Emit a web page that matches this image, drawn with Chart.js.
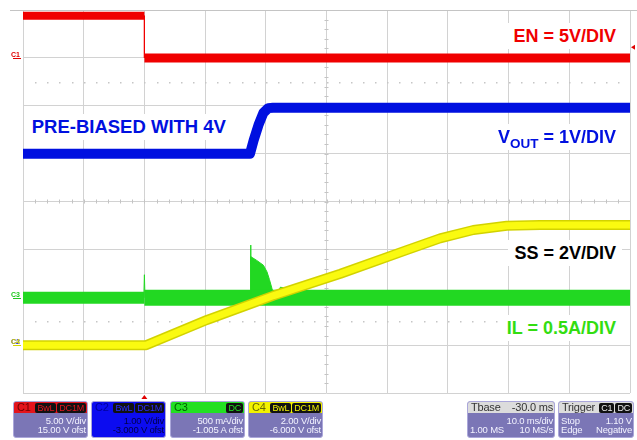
<!DOCTYPE html>
<html>
<head>
<meta charset="utf-8">
<title>Pre-biased start-up</title>
<script src="https://cdn.jsdelivr.net/npm/chart.js@4.4.1/dist/chart.umd.min.js"></script>
<style>
  body { margin: 0; background: #fff; }
  #wrap { position: relative; width: 637px; height: 440px; overflow: hidden; font-family: "Liberation Sans", Arial, sans-serif; }
  #scope { position: absolute; left: 0; top: 0; }
  .lbl { position: absolute; background: #fff; font-weight: bold; font-size: 18px; line-height: 26px; padding: 0 6px; white-space: nowrap; }
  .lbl sub { font-size: 13.5px; line-height: 0; vertical-align: -5px; }
  .box { position: absolute; top: 401px; height: 37px; box-sizing: border-box; border: 1px solid #aba7da; border-radius: 3px;
         background: #7b76b6; overflow: hidden; font-size: 9.5px; color: #f2f2ff; letter-spacing: -0.2px; }
  .hdr { height: 11px; line-height: 11px; padding: 0 1px 0 3px; display: flex; justify-content: space-between; align-items: center; font-size: 11px; }
  .hdr i { font-style: normal; background: #111; border-radius: 2px; font-size: 9px; line-height: 9px; padding: 0 2px; margin-left: 1px; }
  .row { height: 9.5px; line-height: 9.5px; padding: 0 1px 0 2px; display: flex; justify-content: flex-end; white-space: nowrap; }
  .row.first { margin-top: 2.5px; }
  .row.split { justify-content: space-between; }
</style>
</head>
<body>
<div id="wrap">
  <canvas id="scope" width="637" height="440"></canvas>

  <div class="lbl" style="right:15px; top:22.5px; color:#f00000;">EN = 5V/DIV</div>
  <div class="lbl" style="right:15px; top:124px; color:#0010e0;">V<sub>OUT</sub> = 1V/DIV</div>
  <div class="lbl" style="left:25.7px; top:114px; font-size:18.5px; color:#0010e0;">PRE-BIASED WITH 4V</div>
  <div class="lbl" style="right:15px; top:240px; color:#000;">SS = 2V/DIV</div>
  <div class="lbl" style="right:15px; top:315px; color:#33dd11;">IL = 0.5A/DIV</div>

  <div class="box" style="left:13px; width:75px;">
    <div class="hdr" style="background:#e3141c; color:#700000;"><span>C1</span><span><i style="color:#e3141c">BwL</i><i style="color:#e3141c">DC1M</i></span></div>
    <div class="row first">5.00 V/div</div>
    <div class="row">15.00 V ofst</div>
  </div>
  <div class="box" style="left:91px; width:75px; background:#0c0cf0; color:#00004a;">
    <div class="hdr" style="color:#00009a;"><span>C2</span><span><i style="color:#2a2aff">BwL</i><i style="color:#2a2aff">DC1M</i></span></div>
    <div class="row first">1.00 V/div</div>
    <div class="row">-3.000 V ofst</div>
  </div>
  <div class="box" style="left:170px; width:75px;">
    <div class="hdr" style="background:#22e022; color:#006000;"><span>C3</span><span><i style="color:#22e022">DC</i></span></div>
    <div class="row first">500 mA/div</div>
    <div class="row">-1.005 A ofst</div>
  </div>
  <div class="box" style="left:248px; width:75px;">
    <div class="hdr" style="background:#f2f200; color:#6a6a00;"><span>C4</span><span><i style="color:#f2f200">BwL</i><i style="color:#f2f200">DC1M</i></span></div>
    <div class="row first">2.00 V/div</div>
    <div class="row">-6.000 V ofst</div>
  </div>
  <div class="box" style="left:467px; width:88px;">
    <div class="hdr" style="background:#dcdcdc; color:#333;"><span>Tbase</span><span>-30.0 ms</span></div>
    <div class="row first">10.0 ms/div</div>
    <div class="row split"><span>1.00 MS</span><span>10 MS/s</span></div>
  </div>
  <div class="box" style="left:558px; width:76px;">
    <div class="hdr" style="background:#dcdcdc; color:#333;"><span>Trigger</span><span><i style="color:#eee">C1</i><i style="color:#eee">DC</i></span></div>
    <div class="row first split"><span>Stop</span><span>1.10 V</span></div>
    <div class="row split"><span>Edge</span><span>Negative</span></div>
  </div>
</div>

<script>
// time in ms (10 ms/div, trigger at t = 0 on the 2nd division)
var timeMin = -20, timeMax = 80;

// channel settings: volts (amps) per division and offset
var enVdiv = 5,   enOfst = 15;
var outVdiv = 1,  outOfst = -3;
var ilAdiv = 0.5, ilOfst = -1.005;
var ssVdiv = 2,   ssOfst = -6;

// C1: EN (V)
var enT = [-20, 0, 0, 80];
var enV = [4.4, 4.4, 0, 0];

// C2: VOUT (V)
var voutT = [-20, 17.4, 18.0, 18.8, 19.6, 20.4, 21.2, 80];
var voutV = [4.0, 4.0, 4.28, 4.6, 4.85, 4.95, 4.96, 4.96];

// C3: IL (A)
var ilT = [-20, 0, 80];
var ilA = [0, 0, 0];
var ilSpikeT = [-0.1, 0, 0.1, 8, 17.45, 17.5, 17.55];
var ilSpikeA = [0, 0.24, 0, null, 0, 0.55, 0.35];
var ilRingT = [17.45, 17.5, 18.5, 19.6, 20.2, 20.6, 21.0, 21.3, 22.0, 22.4, 23.2, 23.6];
var ilRingA = [0, 0.43, 0.39, 0.34, 0.27, 0.19, 0.10, 0.03, 0.05, 0.11, 0.10, 0.04];

// C4: SS (V)
var ssT = [-20, 0.3, 10.3, 21.3, 32.3, 43.2, 48.7, 54.2, 59.7, 65.2, 80];
var ssV = [0, 0, 1.05, 2.07, 2.98, 3.97, 4.46, 4.81, 4.99, 5.02, 5.02];

var trigLevel = 1.10;

var red = "#f00000", blue = "#0010e0", green = "#22d822", yellow = "#fafa10";

function pts(t, v) {
    return t.map(function(x, i) { return { x: x, y: v[i] }; });
}

function chAxis(vdiv, ofst, show) {
    return {
        display: show,
        min: -4 * vdiv - ofst,
        max: 4 * vdiv - ofst,
        ticks: { display: false, stepSize: vdiv },
        grid: { color: "#d2d2d2", drawTicks: false },
        border: { display: false }
    };
}

// scope decorations: centre-line minor ticks, dotted rows, trigger and ground markers
var scopeDeco = {
    id: "scopeDeco",
    beforeDatasetsDraw: function(chart) {
        var ctx = chart.ctx, a = chart.chartArea;
        var divW = (a.right - a.left) / 10, divH = (a.bottom - a.top) / 8;
        var cx = chart.scales.x.getPixelForValue(30), cy = (a.top + a.bottom) / 2;
        ctx.save();
        ctx.strokeStyle = "#c4c4c4";
        ctx.lineWidth = 1;
        ctx.beginPath();
        for (var i = 1; i < 50; i++) {
            var x = Math.round(a.left + i * divW / 5) + 0.5;
            ctx.moveTo(x, cy - 2); ctx.lineTo(x, cy + 2);
        }
        for (var j = 1; j < 40; j++) {
            var y = Math.round(a.top + j * divH / 5) + 0.5;
            ctx.moveTo(cx - 2, y); ctx.lineTo(cx + 2, y);
        }
        ctx.moveTo(10, a.top + 0.5); ctx.lineTo(637, a.top + 0.5);
        ctx.stroke();
        ctx.fillStyle = "#c6c6c6";
        [1.5, 6.5].forEach(function(d) {
            var yy = Math.round(a.bottom - d * divH);
            for (var k = 1; k < 50; k++) {
                ctx.fillRect(Math.round(a.left + k * divW / 5), yy, 1.5, 1.5);
            }
        });
        ctx.restore();
    },
    afterDraw: function(chart) {
        var ctx = chart.ctx, a = chart.chartArea, s = chart.scales;
        ctx.save();
        // trigger time and level
        ctx.fillStyle = "#e00000";
        var x0 = s.x.getPixelForValue(0);
        ctx.beginPath();
        ctx.moveTo(x0, a.bottom + 2); ctx.lineTo(x0 - 3, a.bottom + 6); ctx.lineTo(x0 + 3, a.bottom + 6);
        ctx.fill();
        var y0 = s.yEN.getPixelForValue(trigLevel);
        ctx.beginPath();
        ctx.moveTo(a.right + 1, y0); ctx.lineTo(a.right + 5, y0 - 2.5); ctx.lineTo(a.right + 5, y0 + 2.5);
        ctx.fill();
        // channel ground markers
        var gnd = [["C1", "yEN", "#e00000"], ["C3", "yIL", "#20c820"], ["C2", "yOUT", "#1010e0"], ["C4", "ySS", "#d4d400"]];
        ctx.font = "bold 7px 'Liberation Sans', Arial";
        ctx.textAlign = "right";
        ctx.lineWidth = 1;
        gnd.forEach(function(g) {
            var y = Math.round(s[g[1]].getPixelForValue(0)) + 0.5;
            ctx.fillStyle = g[2];
            ctx.strokeStyle = g[2];
            ctx.fillText(g[0], 20, y - 2);
            ctx.beginPath(); ctx.moveTo(13, y); ctx.lineTo(21, y); ctx.stroke();
        });
        ctx.restore();
    }
};

var chart = new Chart(document.getElementById("scope").getContext("2d"), {
    type: "line",
    data: {
        datasets: [{
            label: "SS",
            data: pts(ssT, ssV),
            yAxisID: "ySS",
            borderColor: yellow,
            borderWidth: 7,
            borderJoinStyle: "round",
            order: 0
        }, {
            label: "SS edge",
            data: pts(ssT, ssV),
            yAxisID: "ySS",
            borderColor: "#d2d200",
            borderWidth: 10,
            borderJoinStyle: "round",
            order: 1
        }, {
            label: "EN",
            data: pts(enT, enV),
            yAxisID: "yEN",
            borderColor: red,
            borderWidth: 9,
            segment: {
                borderWidth: function(c) {
                    if (c.p0.parsed.x === c.p1.parsed.x) return 1;
                    return c.p0.parsed.x < 0 ? 8 : 9;
                }
            },
            order: 2
        }, {
            label: "VOUT",
            data: pts(voutT, voutV),
            yAxisID: "yOUT",
            borderColor: blue,
            borderWidth: 10,
            borderJoinStyle: "round",
            order: 3
        }, {
            label: "IL spikes",
            data: pts(ilSpikeT, ilSpikeA),
            yAxisID: "yIL",
            borderColor: green,
            borderWidth: 1,
            order: 4
        }, {
            label: "IL",
            data: pts(ilT, ilA),
            yAxisID: "yIL",
            borderColor: green,
            borderWidth: 16,
            segment: {
                borderWidth: function(c) { return c.p0.parsed.x < 0 ? 12 : 16; }
            },
            order: 5
        }, {
            label: "IL ringing",
            data: pts(ilRingT, ilRingA),
            yAxisID: "yIL",
            borderColor: green,
            backgroundColor: green,
            borderWidth: 1,
            fill: { value: 0 },
            order: 6
        }]
    },
    options: {
        responsive: false,
        animation: false,
        layout: { padding: { left: 23, top: 10, right: 7, bottom: 47 } },
        elements: { point: { radius: 0 }, line: { tension: 0, borderCapStyle: "butt" } },
        plugins: { legend: { display: false }, tooltip: { enabled: false } },
        scales: {
            x: {
                type: "linear",
                min: timeMin,
                max: timeMax,
                ticks: { display: false, stepSize: 10 },
                grid: { color: "#d2d2d2", drawTicks: false },
                border: { display: false }
            },
            yEN: chAxis(enVdiv, enOfst, true),
            yOUT: chAxis(outVdiv, outOfst, false),
            yIL: chAxis(ilAdiv, ilOfst, false),
            ySS: chAxis(ssVdiv, ssOfst, false)
        }
    },
    plugins: [scopeDeco]
});
</script>
</body>
</html>
